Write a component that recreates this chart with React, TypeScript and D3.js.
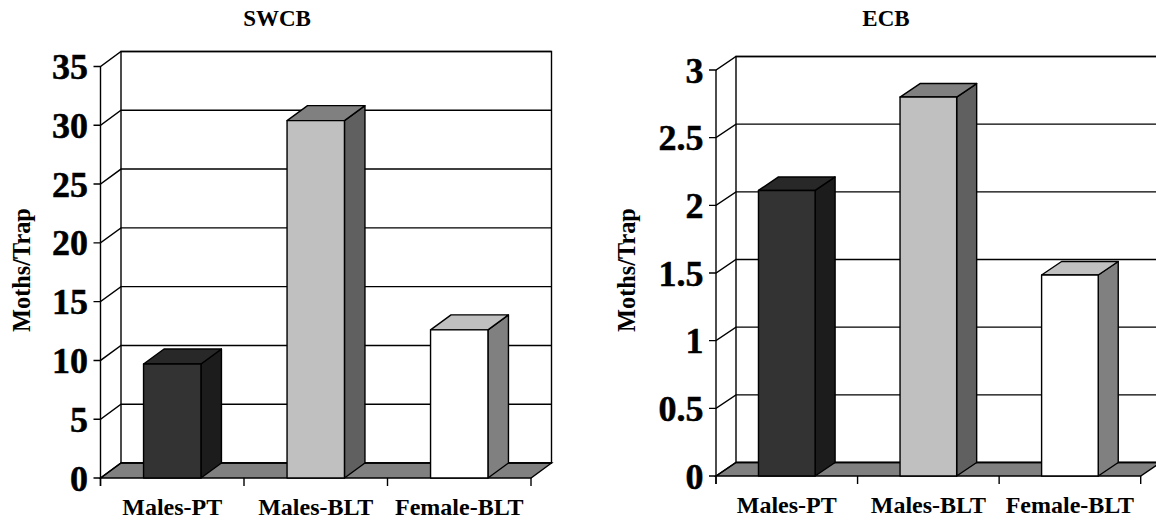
import React from "react";
import * as d3 from "d3";

const categories = ["Males-PT", "Males-BLT", "Female-BLT"];
const swcbValues = [9.7, 30.4, 12.6];
const ecbValues = [2.11, 2.8, 1.485];
const swcbTicks = [0, 5, 10, 15, 20, 25, 30, 35];
const ecbTicks = [0, 0.5, 1, 1.5, 2, 2.5, 3];

const FONT = "'Liberation Serif', 'Times New Roman', serif";
const barFills = [
  { front: "#333333", side: "#1c1c1c", top: "#282828" },
  { front: "#c0c0c0", side: "#606060", top: "#808080" },
  { front: "#ffffff", side: "#808080", top: "#c0c0c0" },
];

type PanelProps = {
  title: string; titleX: number; titleY: number;
  values: number[]; ticks: number[];
  x0: number; x1: number; y0: number; yTop: number;
  dx: number; dy: number; yTitleX: number; yTitleY: number;
};

function Panel(p: PanelProps) {
  const y = d3.scaleLinear().domain([d3.min(p.ticks)!, d3.max(p.ticks)!]).range([p.y0, p.yTop]);
  const x = d3.scaleBand<string>().domain(categories).range([p.x0, p.x1]).paddingInner(0.6).paddingOuter(0.3);
  const step = x.step();
  const { dx, dy } = p;
  const sw = 1.4;
  return (
    <g>
      <text x={p.titleX} y={p.titleY} textAnchor="middle" fontFamily={FONT} fontWeight="bold" fontSize={23}>{p.title}</text>
      <text transform={`translate(${p.yTitleX},${p.yTitleY}) rotate(-90)`} textAnchor="middle" fontFamily={FONT} fontWeight="bold" fontSize={24.3}>Moths/Trap</text>

      <rect x={p.x0 + dx} y={p.yTop - dy} width={p.x1 - p.x0} height={p.y0 - p.yTop} fill="#fff" stroke="#000" strokeWidth={sw} />
      <polygon
        points={`${p.x0},${p.y0} ${p.x0 + dx},${p.y0 - dy} ${p.x1 + dx},${p.y0 - dy} ${p.x1},${p.y0}`}
        fill="#808080" stroke="#000" strokeWidth={sw} />
      <line x1={p.x0} x2={p.x0} y1={p.yTop} y2={p.y0 + 8} stroke="#000" strokeWidth={sw} />
      {p.ticks.map((t) => (
        <g key={t}>
          <polyline fill="none" stroke="#000" strokeWidth={sw}
            points={`${p.x0 - 7},${y(t)} ${p.x0},${y(t)} ${p.x0 + dx},${y(t) - dy} ${p.x1 + dx},${y(t) - dy}`} />
          <text x={p.x0 - 12.5} y={y(t) + 12.5} textAnchor="end" fontFamily={FONT} fontWeight="bold" fontSize={36} stroke="#000" strokeWidth={0.5}>{t}</text>
        </g>
      ))}
      {d3.range(categories.length + 1).map((i) => (
        <line key={i} x1={p.x0 + i * step} x2={p.x0 + i * step} y1={p.y0} y2={p.y0 + 8} stroke="#000" strokeWidth={sw} />
      ))}
      {categories.map((c, i) => {
        const bx = x(c)!;
        const bw = x.bandwidth();
        const top = y(p.values[i]);
        const f = barFills[i];
        return (
          <g key={c} stroke="#000" strokeWidth={sw} strokeLinejoin="round">
            <polygon fill={f.side} points={`${bx + bw},${p.y0} ${bx + bw + dx},${p.y0 - dy} ${bx + bw + dx},${top - dy} ${bx + bw},${top}`} />
            <polygon fill={f.top} points={`${bx},${top} ${bx + dx},${top - dy} ${bx + bw + dx},${top - dy} ${bx + bw},${top}`} />
            <rect x={bx} y={top} width={bw} height={p.y0 - top} fill={f.front} />
            <text x={p.x0 + (i + 0.5) * step} y={p.y0 + 37} textAnchor="middle" stroke="none" fontFamily={FONT} fontWeight="bold" fontSize={24}>{c}</text>
          </g>
        );
      })}
    </g>
  );
}

export default function App() {
  return (
    <svg width={1156} height={520} style={{ position: "absolute", left: 0, top: 0, background: "#fff" }}>
      <Panel title="SWCB" titleX={277} titleY={26} values={swcbValues} ticks={swcbTicks}
        x0={100.5} x1={531} y0={478} yTop={66.5} dx={20.5} dy={15} yTitleX={29.5} yTitleY={270} />
      <Panel title="ECB" titleX={886} titleY={26} values={ecbValues} ticks={ecbTicks}
        x0={716} x1={1140.7} y0={476} yTop={70} dx={20} dy={13.5} yTitleX={635} yTitleY={270} />
    </svg>
  );
}
